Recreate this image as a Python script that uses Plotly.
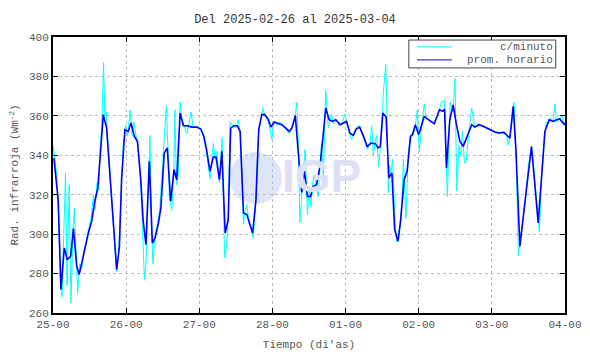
import pandas as pd
import plotly.graph_objects as go

# ---- data (hours since 2025-02-25 00:00) ----
start = "2025-02-25 00:00"
x_tick_labels = ["25-00", "26-00", "27-00", "28-00", "01-00", "02-00", "03-00", "04-00"]
series_names = ["c/minuto", "prom. horario"]

hourly_h = [0.3, 1.7, 2.6, 3.7, 4.7, 5.8, 6.7, 7.8, 8.6, 9.6, 10.7, 11.6, 12.7, 13.6, 14.7, 15.6,
            16.5, 17.6, 18.7, 19.8, 20.9, 21.8, 22.5, 23.6, 24.7, 25.6, 26.7, 27.7, 28.8, 29.6,
            30.5, 31.6, 32.6, 33.5, 34.6, 35.4, 36.5, 37.5, 38.6, 39.7, 40.6, 41.7, 42.8, 44.1,
            45.5, 47.1, 48.5, 49.5, 50.4, 51.5, 52.6, 53.5, 54.6, 55.4, 56.5, 57.5, 58.3, 59.4,
            60.5, 61.4, 62.5, 63.6, 64.7, 65.5, 66.6, 67.5, 68.5, 69.5, 70.6, 71.5, 72.6, 73.7,
            75.0, 76.4, 77.5, 78.4, 79.5, 80.5, 81.6, 82.5, 83.5, 84.5, 85.4, 86.5, 87.6, 88.5,
            89.5, 90.6, 91.6, 92.8, 94.2, 95.3, 96.3, 97.4, 98.5, 99.5, 100.6, 101.9, 103.1,
            104.4, 105.7, 106.7, 107.4, 108.2, 109.3, 110.2, 111.2, 112.1, 113.2, 114.1, 115.2,
            116.2, 117.3, 118.0, 118.9, 120.0, 121.8, 123.3, 125.1, 126.8, 127.9, 128.5, 129.1,
            130.2, 131.3, 132.4, 133.5, 134.6, 135.5, 136.4, 137.4, 138.4, 139.9, 141.7, 143.4,
            145.0, 146.4, 148.0, 148.8, 149.9, 151.0, 151.9, 153.2, 154.3, 155.6, 157.0, 158.1,
            159.2, 160.3, 161.4, 162.8, 164.1, 165.2, 166.3, 167.2, 167.9]
hourly_v = [338.6, 317.5, 271.9, 293.0, 287.0, 288.8, 302.8, 283.7, 279.5, 287.0, 293.9, 300.6,
            306.5, 315.8, 323.4, 342.8, 360.6, 353.8, 329.3, 304.0, 282.0, 293.9, 327.6, 353.0,
            352.1, 356.4, 349.6, 347.1, 327.6, 306.5, 294.7, 336.9, 295.5, 298.1, 305.7, 313.3,
            341.1, 343.7, 316.7, 332.7, 327.6, 361.4, 355.0, 355.0, 354.3, 354.3, 353.3, 349.6,
            342.8, 331.9, 339.1, 339.1, 327.6, 342.0, 300.6, 307.4, 353.8, 355.0, 355.0, 352.1,
            310.7, 309.9, 304.8, 300.6, 317.5, 353.0, 360.6, 360.6, 358.4, 354.3, 356.9, 356.4,
            355.5, 353.8, 352.1, 353.8, 360.1, 341.1, 321.2, 331.9, 319.1, 319.1, 324.3, 325.1,
            334.4, 347.9, 364.0, 358.0, 357.2, 358.0, 355.5, 356.4, 357.2, 351.3, 350.1, 353.3,
            354.3, 349.6, 344.5, 346.2, 345.9, 343.7, 344.5, 361.4, 359.4, 328.5, 331.0, 302.3,
            296.4, 307.4, 327.6, 331.9, 349.6, 350.4, 355.5, 350.4, 359.7, 358.0, 356.0, 363.1,
            362.3, 363.5, 333.6, 358.0, 365.6, 355.5, 347.1, 344.5, 347.9, 352.1, 355.5, 354.3,
            355.5, 354.3, 353.0, 351.8, 351.3, 351.6, 350.4, 348.7, 364.8, 342.8, 293.9, 307.4,
            326.0, 344.5, 324.3, 305.7, 328.5, 352.1, 358.0, 357.2, 358.0, 358.4, 356.7, 355.5]

minute_h = [0.0, 0.5, 1.2, 1.8, 2.5, 3.0, 3.5, 4.1, 4.6, 5.3, 5.9, 6.5, 7.0, 7.6, 8.1, 8.8, 9.5,
            10.2, 11.0, 11.8, 12.5, 13.3, 13.8, 14.4, 15.0, 15.5, 16.0, 16.6, 17.0, 17.5, 18.0,
            18.7, 19.5, 20.3, 20.8, 21.5, 22.2, 23.0, 23.8, 24.5, 25.3, 26.0, 26.5, 27.3, 28.0,
            28.8, 29.5, 30.0, 30.5, 31.2, 31.8, 32.4, 32.8, 33.5, 34.3, 35.0, 35.8, 36.5, 37.2,
            37.8, 38.2, 39.0, 39.6, 40.0, 40.5, 41.1, 41.7, 42.3, 43.0, 43.9, 44.6, 45.3, 46.0,
            47.0, 48.0, 49.0, 49.8, 50.5, 51.5, 52.1, 52.6, 53.2, 53.8, 54.6, 55.5, 56.3, 57.0,
            57.5, 58.1, 59.0, 60.0, 60.8, 61.4, 62.0, 62.5, 63.0, 63.6, 64.3, 65.0, 65.7, 66.3,
            67.0, 67.5, 68.2, 68.8, 69.5, 70.3, 71.0, 71.8, 72.5, 73.5, 74.5, 75.5, 76.5, 77.5,
            78.4, 79.3, 80.0, 80.5, 81.0, 81.6, 82.0, 82.7, 83.5, 84.0, 84.6, 85.2, 85.7, 86.0,
            87.0, 87.6, 88.1, 88.7, 89.5, 90.0, 90.3, 91.4, 92.0, 93.0, 94.0, 95.0, 95.8, 96.5,
            97.3, 98.0, 98.7, 99.5, 100.6, 101.5, 102.3, 103.1, 104.0, 104.6, 105.1, 105.6,
            106.2, 106.8, 107.4, 108.0, 108.4, 109.2, 109.6, 110.0, 110.4, 110.9, 111.4, 111.8,
            112.3, 112.8, 113.3, 114.0, 114.5, 115.0, 115.8, 116.6, 117.3, 118.0, 118.9, 119.5,
            120.2, 121.0, 121.8, 122.5, 123.3, 124.2, 125.1, 126.0, 126.8, 127.5, 128.4, 129.2,
            129.4, 130.3, 131.3, 131.9, 132.5, 133.2, 133.8, 134.4, 135.0, 135.6, 136.3, 137.4,
            138.4, 139.5, 140.5, 141.7, 143.0, 144.5, 146.0, 147.5, 148.8, 149.4, 150.2, 151.0,
            151.3, 151.6, 152.0, 152.7, 153.2, 154.0, 155.0, 156.0, 157.0, 157.5, 158.2, 159.0,
            159.6, 160.3, 161.0, 161.8, 162.5, 163.3, 164.0, 164.7, 165.2, 166.0, 167.0, 167.5,
            168.0]
minute_v = [345, 340, 330, 310, 275, 268, 298, 331, 274, 325, 265, 300, 313, 290, 270, 285, 283,
            292, 297, 303, 308, 320, 312, 326, 322, 345, 355, 387, 360, 362, 345,
            330, 310, 290, 281, 290, 320, 345, 355, 350, 363, 350, 357, 350, 343,
            325, 300, 277, 285, 320, 350, 300, 285, 300, 305, 312, 330, 345, 365,
            340, 318, 312, 330, 363, 325, 330, 367, 358, 355, 351, 356, 362, 354,
            355, 354, 352, 346, 340, 328, 340, 346, 338, 342, 326, 349, 288, 294,
            310, 357, 355, 354, 358, 352, 330, 305, 312, 315, 306, 303, 298, 310,
            335, 352, 358, 364, 360, 358, 355, 348, 357, 355, 357, 355, 353, 351,
            354, 358, 367, 345, 306, 320, 330, 343, 310, 322, 314, 326, 330, 327,
            319, 334, 346, 329, 373, 360, 354, 361, 356, 358, 355, 357, 361, 356,
            352, 348, 350, 354, 355, 351, 347, 343, 346, 355, 340, 346,
            350, 334, 343, 355, 372, 386, 360, 321, 335, 331, 338, 318,
            305, 296, 297, 305, 318, 338, 308, 341, 350, 352, 355, 363,
            342, 355, 366, 359, 358, 357, 356, 359, 364, 367, 368, 324,
            319, 367, 362, 379, 322, 345, 340, 352, 336, 337, 350, 364,
            354, 356, 355, 354, 353, 352, 351, 352, 350, 345, 352, 362,
            367, 350, 338, 289, 295, 305, 318, 335, 344, 338, 325, 310,
            301, 330, 345, 357, 356, 359, 357, 366, 357, 358, 360, 357,
            355]

t0 = pd.Timestamp(start)
hourly_t = [t0 + pd.Timedelta(hours=h) for h in hourly_h]
minute_t = [t0 + pd.Timedelta(hours=h) for h in minute_h]
tick_vals = [t0 + pd.Timedelta(days=d) for d in range(len(x_tick_labels))]

FONT = "Liberation Mono, Courier New, monospace"
CYAN = "#00FFFF"
BLUE = "#0000FF"
TXT = "#555555"

fig = go.Figure()
fig.add_trace(go.Scatter(x=minute_t, y=minute_v, mode="lines", name=series_names[0],
                         line=dict(color=CYAN, width=1), showlegend=False))
fig.add_trace(go.Scatter(x=hourly_t, y=hourly_v, mode="lines", name=series_names[1],
                         line=dict(color=BLUE, width=1.6), showlegend=False))

# watermark (IGP logo)
fig.add_shape(type="circle", xref="paper", yref="paper", x0=0.345, x1=0.447, y0=0.395, y1=0.583,
              fillcolor="#DCE6F8", line=dict(width=0), layer="below")
fig.add_annotation(text="<b>IGP</b>", xref="paper", yref="paper", x=0.525, y=0.495,
                   showarrow=False, font=dict(family="Liberation Sans, Arial", size=46, color="#DEDEF4"))

# legend box drawn by hand (compact, right-aligned labels)
fig.add_shape(type="rect", xref="paper", yref="paper", x0=0.695, x1=0.982, y0=0.888, y1=0.989,
              fillcolor="white", line=dict(color="#444", width=1), layer="above")
for i, (nm, col) in enumerate(zip(series_names, [CYAN, BLUE])):
    yy = 0.964 - i * 0.047
    fig.add_shape(type="line", xref="paper", yref="paper", x0=0.711, x1=0.779, y0=yy, y1=yy,
                  line=dict(color=col, width=1), layer="above")
    fig.add_annotation(text=nm, xref="paper", yref="paper", x=0.981, y=yy, xanchor="right",
                       yanchor="middle", showarrow=False,
                       font=dict(family=FONT, size=11, color=TXT))

fig.update_layout(
    width=590, height=354,
    margin=dict(l=53, r=25, t=37, b=41),
    paper_bgcolor="white", plot_bgcolor="white",
    font=dict(family=FONT, size=11, color=TXT),
    title=dict(text="Del 2025-02-26 al 2025-03-04", x=0.5, xanchor="center", y=0.947, yanchor="middle",
               font=dict(family=FONT, size=12, color="#333")),
    showlegend=False,
)
fig.update_xaxes(type="date", range=[tick_vals[0], tick_vals[-1]], tickvals=tick_vals,
                 ticktext=x_tick_labels, ticks="inside", ticklen=5, tickcolor="black",
                 showline=True, linecolor="black", linewidth=2, mirror="ticks",
                 showgrid=True, gridcolor="#bbbbbb", griddash="dot", gridwidth=1,
                 automargin=False,
                 title=dict(text="Tiempo (di'as)", standoff=10, font=dict(family=FONT, size=11, color=TXT)),
                 zeroline=False)
fig.update_yaxes(range=[260, 400], dtick=20, ticks="inside", ticklen=5, tickcolor="black",
                 showline=True, linecolor="black", linewidth=2, mirror="ticks",
                 showgrid=True, gridcolor="#bbbbbb", griddash="dot", gridwidth=1,
                 automargin=False,
                 title=dict(text="Rad. infrarroja (Wm<sup>-2</sup>)", standoff=8,
                            font=dict(family=FONT, size=11, color=TXT)),
                 zeroline=False)

fig.write_html("out.html")
